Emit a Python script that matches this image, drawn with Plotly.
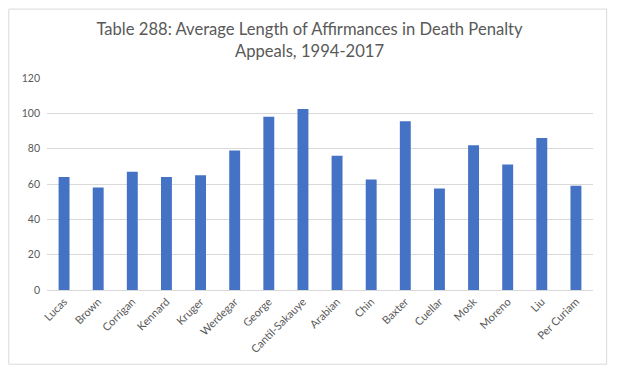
import plotly.graph_objects as go

judges = ["Lucas", "Brown", "Corrigan", "Kennard", "Kruger", "Werdegar", "George",
          "Cantil-Sakauye", "Arabian", "Chin", "Baxter", "Cuellar", "Mosk", "Moreno",
          "Liu", "Per Curiam"]
avg_length = [64, 58, 67, 64, 65, 79, 98, 102.5, 76, 62.5, 95.5, 57.5, 82, 71, 86, 59]

title_text = "Table 288: Average Length of Affirmances in Death Penalty<br>Appeals, 1994-2017"

fig = go.Figure(go.Bar(x=judges, y=avg_length, marker_color="#4472C4",
                       marker_line_width=0))

fig.update_layout(
    width=619, height=374,
    margin=dict(l=47, r=26, t=78, b=84, autoexpand=False),
    paper_bgcolor="white", plot_bgcolor="white",
    bargap=0.68,
    font=dict(family="Lato, Open Sans, sans-serif", color="#595959"),
    title=dict(text=title_text, x=0.5, xanchor="center", yref="container",
               y=1 - 35 / 374, yanchor="top",
               font=dict(size=16.6, color="#595959")),
    showlegend=False,
)
fig.update_yaxes(range=[0, 120], dtick=20, showgrid=True, gridcolor="#D9D9D9",
                 gridwidth=1, zeroline=False, showline=False, automargin=False,
                 tickfont=dict(size=10.5, color="#595959"), ticks="", ticklen=0,
                 ticklabelstandoff=6)
fig.update_xaxes(tickangle=-45, showline=True, linecolor="#D9D9D9", linewidth=1,
                 automargin=False,
                 tickfont=dict(size=11, color="#595959"), ticks="")
fig.add_shape(type="rect", xref="paper", yref="paper",
              x0=-0.07, x1=1.025, y0=-0.35, y1=1.325,
              line=dict(color="#D9D9D9", width=1), fillcolor="rgba(0,0,0,0)", layer="below")

fig.write_html("out.html", config={"displayModeBar": False},
               post_script="document.body.style.margin='0';document.documentElement.style.margin='0';")
